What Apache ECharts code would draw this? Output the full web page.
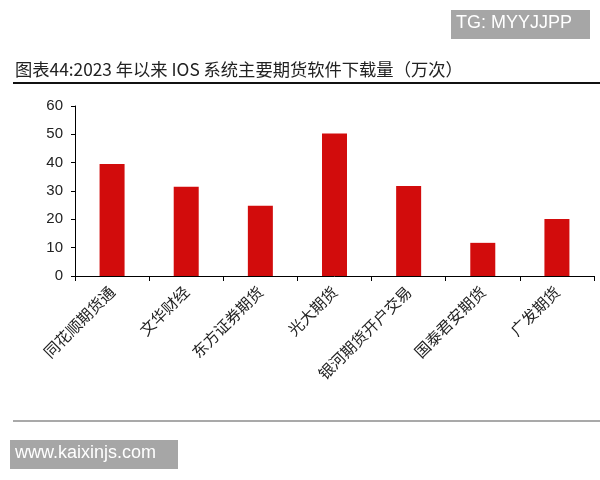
<!DOCTYPE html>
<html>
<head>
<meta charset="utf-8">
<script src="https://cdn.jsdelivr.net/npm/echarts@6/dist/echarts.min.js"></script>
<style>html,body{margin:0;padding:0;background:#fff;}#c{width:600px;height:480px;}</style>
</head>
<body>
<div id="c"></div>
<script>
const titleText = '图表44:2023 年以来 IOS 系统主要期货软件下载量（万次）';
const categories = ['同花顺期货通', '文华财经', '东方证券期货', '光大期货', '银河期货开户交易', '国泰君安期货', '广发期货'];
const downloads = [39.5, 31.5, 24.8, 50.3, 31.8, 11.7, 20.1];
const yTicks = { min: 0, max: 60, interval: 10 };

const chart = echarts.init(document.getElementById('c'), null, { renderer: 'canvas' });
chart.setOption({
  backgroundColor: '#ffffff',
  animation: false,
  grid: { left: 75, right: 6, top: 106, bottom: 204, containLabel: false },
  xAxis: {
    type: 'category',
    data: categories,
    boundaryGap: true,
    axisLine: { lineStyle: { color: '#000', width: 1 } },
    axisTick: { show: true, length: 5, inside: false, lineStyle: { color: '#000' } },
    axisLabel: {
      rotate: 45, margin: 13, interval: 0,
      fontFamily: 'Noto Sans CJK SC', fontSize: 15.5, color: '#222'
    },
    splitLine: { show: false }
  },
  yAxis: {
    type: 'value',
    min: yTicks.min, max: yTicks.max, interval: yTicks.interval,
    axisLine: { show: true, lineStyle: { color: '#000', width: 1 } },
    axisTick: { show: true, length: 4, lineStyle: { color: '#000' } },
    axisLabel: { margin: 12, fontFamily: 'Liberation Sans', fontSize: 15, color: '#222' },
    splitLine: { show: false }
  },
  series: [{
    type: 'bar',
    data: downloads,
    barWidth: 25,
    itemStyle: { color: '#d20c0c' }
  }],
  graphic: [
    { type: 'text', left: 15, top: 61, style: { text: titleText, fontFamily: 'Noto Sans CJK SC', fontSize: 17.3, fill: '#222' } },
    { type: 'rect', shape: { x: 13, y: 82, width: 587, height: 2 }, style: { fill: '#111' } },
    { type: 'rect', shape: { x: 13, y: 420.5, width: 587, height: 1 }, style: { fill: '#555' } },
    { type: 'rect', shape: { x: 451, y: 10, width: 139, height: 29 }, style: { fill: '#a6a6a6' } },
    { type: 'text', left: 456, top: 14, style: { text: 'TG: MYYJJPP', fontFamily: 'Liberation Sans', fontSize: 18, fill: '#fff' } },
    { type: 'rect', shape: { x: 10, y: 440, width: 168, height: 29 }, style: { fill: '#a6a6a6' } },
    { type: 'text', left: 15, top: 444, style: { text: 'www.kaixinjs.com', fontFamily: 'Liberation Sans', fontSize: 18, fill: '#fff' } }
  ]
});
</script>
</body>
</html>
